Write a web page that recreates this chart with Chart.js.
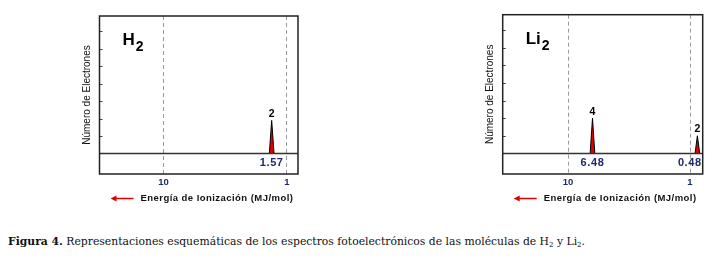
<!DOCTYPE html>
<html>
<head>
<meta charset="utf-8">
<script src="https://cdn.jsdelivr.net/npm/chart.js@4"></script>
<style>
  body { margin: 0; background: #fff; width: 723px; height: 259px; position: relative; overflow: hidden; }
  canvas { position: absolute; top: 0; }
  #h2 { left: 60px; }
  #li2 { left: 460px; }
  .caption { position: absolute; left: 8px; top: 235px; font: 10.8px "DejaVu Serif", serif; color: #111; white-space: nowrap; }
  .caption b { font-weight: bold; }
  .caption sub { font-size: 7px; vertical-align: -2px; line-height: 0; }
</style>
</head>
<body>
<canvas id="h2" width="250" height="220"></canvas>
<canvas id="li2" width="255" height="220"></canvas>
<div class="caption"><b>Figura 4.</b> Representaciones esquemáticas de los espectros fotoelectrónicos de las moléculas de H<sub>2</sub> y Li<sub>2</sub>.</div>
<script>
// axis ticks
const xTicks = [10, 1];
const yTicks = [1, 2, 3, 4, 5, 6, 7];

// H2 spectrum: where each peak is drawn, its height, count and energy label
const h2Energy = [1.33];
const h2Height = [1.9];
const h2Count = ["2"];
const h2Label = ["1.57"];

// Li2 spectrum
const li2Energy = [6.3, 0.87];
const li2Height = [2, 1];
const li2Count = ["4", "2"];
const li2Label = ["6.48", "0.48"];

const peakWidth = 1.045; // half base of a peak, as a factor on the log axis
const navy = "#1f2a6e";
const sans = '"Liberation Sans", Arial';

// Draws the frame, baseline, inner ticks and all labels on top of the chart
function spectrumPlugin(opts) {
  return {
    id: "spectrum",
    afterDraw(chart) {
      const { ctx, chartArea: a, scales: { x, y } } = chart;
      ctx.save();

      // small ticks pointing inward on the left edge
      ctx.strokeStyle = "#444";
      ctx.lineWidth = 1;
      y.ticks.forEach((t) => {
        const py = Math.round(y.getPixelForValue(t.value)) + 0.5;
        ctx.beginPath();
        ctx.moveTo(a.left, py);
        ctx.lineTo(a.left + 3, py);
        ctx.stroke();
      });

      // baseline at zero
      const y0 = y.getPixelForValue(0);
      ctx.strokeStyle = "#333";
      ctx.lineWidth = 1.5;
      ctx.beginPath();
      ctx.moveTo(a.left, y0);
      ctx.lineTo(a.right, y0);
      ctx.stroke();

      // frame
      ctx.strokeStyle = "#222";
      ctx.strokeRect(a.left, a.top, a.right - a.left, a.bottom - a.top);

      // molecule name with subscript
      ctx.fillStyle = "#000";
      ctx.textAlign = "left";
      ctx.textBaseline = "alphabetic";
      ctx.font = "bold 17px " + sans;
      ctx.fillText(opts.name, a.left + 23, a.top + 29);
      const nw = ctx.measureText(opts.name).width;
      ctx.font = "bold 14px " + sans;
      ctx.fillText("2", a.left + 24 + nw, a.top + 35);

      // peak counts above, energies below the baseline
      opts.energy.forEach((e, i) => {
        const px = x.getPixelForValue(e);
        const py = y.getPixelForValue(opts.height[i]);
        ctx.fillStyle = "#000";
        ctx.textAlign = "center";
        ctx.textBaseline = "bottom";
        ctx.letterSpacing = "0px";
        ctx.font = "bold 10.5px " + sans;
        ctx.fillText(opts.count[i], px, py - 1);

        ctx.fillStyle = navy;
        ctx.font = "bold 11px " + sans;
        ctx.letterSpacing = "0.6px";
        ctx.textBaseline = "middle";
        const tw = ctx.measureText(opts.label[i]).width;
        const lx = Math.min(px, a.right - 1 - tw / 2);
        ctx.fillText(opts.label[i], lx, y0 + 9.5);
      });

      // x axis title with arrow
      const ty = a.bottom + 24.5;
      ctx.letterSpacing = "0.45px";
      ctx.fillStyle = "#111";
      ctx.textAlign = "left";
      ctx.textBaseline = "middle";
      ctx.font = "bold 9.5px " + sans;
      ctx.fillText("Energía de Ionización (MJ/mol)", a.left + 41, ty);

      ctx.strokeStyle = "#e00000";
      ctx.fillStyle = "#e00000";
      ctx.lineWidth = 1.5;
      ctx.beginPath();
      ctx.moveTo(a.left + 15, ty);
      ctx.lineTo(a.left + 34, ty);
      ctx.stroke();
      ctx.beginPath();
      ctx.moveTo(a.left + 11, ty);
      ctx.lineTo(a.left + 17, ty - 3);
      ctx.lineTo(a.left + 17, ty + 3);
      ctx.closePath();
      ctx.fill();

      ctx.restore();
    },
  };
}

function makeChart(id, opts) {
  return new Chart(document.getElementById(id), {
    type: "line",
    data: {
      datasets: opts.energy.map((e, i) => ({
        data: [
          { x: e * peakWidth, y: 0 },
          { x: e, y: opts.height[i] },
          { x: e / peakWidth, y: 0 },
        ],
        borderColor: "#000",
        borderWidth: 1,
        backgroundColor: "#e00000",
        fill: "origin",
        pointRadius: 0,
        tension: 0,
      })),
    },
    options: {
      responsive: false,
      animation: false,
      events: [],
      layout: { padding: opts.padding },
      plugins: { legend: { display: false }, tooltip: { enabled: false } },
      scales: {
        x: {
          type: "logarithmic",
          reverse: true,
          min: opts.xMin,
          max: opts.xMax,
          afterBuildTicks: (s) => {
            s.ticks = xTicks.map((v) => ({ value: v }));
          },
          ticks: {
            callback: (v) => String(v),
            color: navy,
            font: { family: sans, size: 9.5, weight: "bold" },
            padding: 3,
            maxRotation: 0,
            autoSkip: false,
          },
          grid: { color: "#9a9a9a", lineWidth: 1, drawTicks: false },
          border: { display: false, dash: [4, 3] },
        },
        y: {
          min: -1.17,
          max: 7.88,
          afterBuildTicks: (s) => {
            s.ticks = yTicks.map((v) => ({ value: v }));
          },
          ticks: { display: false },
          grid: { display: false, drawTicks: false },
          border: { display: false },
          title: {
            display: true,
            text: "Número de Electrones",
            color: "#111",
            font: { family: sans, size: 10 },
            padding: { top: 0, bottom: 6 },
          },
        },
      },
    },
    plugins: [spectrumPlugin(opts)],
  });
}

makeChart("h2", {
  name: "H",
  energy: h2Energy,
  height: h2Height,
  count: h2Count,
  label: h2Label,
  xMin: 0.814,
  xMax: 33,
  padding: { left: 21.5, top: 16, right: 12, bottom: 28.6 },
});

makeChart("li2", {
  name: "Li",
  energy: li2Energy,
  height: li2Height,
  count: li2Count,
  label: li2Label,
  xMin: 0.787,
  xMax: 34.3,
  padding: { left: 24.7, top: 14.7, right: 12.3, bottom: 28.6 },
});
</script>
</body>
</html>
